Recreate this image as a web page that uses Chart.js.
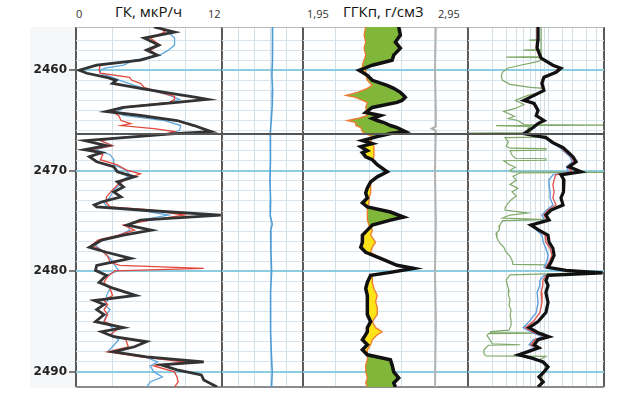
<!DOCTYPE html>
<html>
<head>
<meta charset="utf-8">
<script src="https://cdn.jsdelivr.net/npm/chart.js@4.4.0/dist/chart.umd.min.js"></script>
<style>
  body { margin: 0; background: #fff; width: 624px; height: 396px; overflow: hidden; position: relative; font-family: 'Open Sans', sans-serif; }
  canvas { position: absolute; }
  .lbl { position: absolute; white-space: nowrap; color: #111; line-height: 1; }
</style>
</head>
<body>
<div style="position:absolute;left:30px;top:27px;width:46px;height:361px;background:#f5f7f9"></div>
<div class="lbl" style="left:76px;top:8px;font-size:11px;color:#333">0</div>
<div class="lbl" style="left:115px;top:4px;font-size:15px">ГК, мкР/ч</div>
<div class="lbl" style="left:208px;top:8px;font-size:11px;color:#333">12</div>
<div class="lbl" style="left:307px;top:8px;font-size:11px;color:#333">1,95</div>
<div class="lbl" style="left:343px;top:4px;font-size:15px">ГГКп, г/см3</div>
<div class="lbl" style="left:438px;top:8px;font-size:11px;color:#333">2,95</div>
<canvas id="t1" width="225" height="366" style="left:0;top:24px"></canvas>
<canvas id="t2" width="87" height="366" style="left:219px;top:24px"></canvas>
<canvas id="t3" width="171" height="366" style="left:300px;top:24px"></canvas>
<canvas id="t4" width="142" height="366" style="left:465px;top:24px"></canvas>
<script>
const DEPTH_TOP = 2455.7;
const DEPTH_BOTTOM = 2491.5;
const RUN_BREAK = 2466.35;

// ГК: [глубина, значение]
const gkBlack = [[2455.7,6.4],[2456.2,8.1],[2456.8,5.6],[2457.5,6.8],[2458.0,5.8],[2458.5,6.7],[2459.0,5.3],[2459.5,1.7],[2460.0,0.25],[2460.3,0.9],
  [2460.7,2.5],[2461.0,3.3],[2461.3,3.0],[2461.8,5.3],[2462.3,7.8],[2462.7,9.9],[2462.9,10.8],[2463.2,8.3],[2463.7,3.9],[2464.1,2.5],
  [2464.5,5.3],[2465.0,8.3],[2465.5,9.7],[2466.1,11.1],[2466.3,8.1],[2466.7,3.9],[2467.0,0.7],[2467.5,2.5],[2467.9,0.7],[2468.2,2.1],
  [2468.6,1.1],[2469.1,1.7],[2469.6,3.1],[2470.1,3.4],[2470.6,4.8],[2471.1,3.4],[2471.6,3.9],[2472.1,3.1],[2472.6,3.7],[2473.1,2.1],
  [2473.4,1.5],[2473.6,1.7],[2473.9,5.3],[2474.4,11.9],[2474.9,5.3],[2475.4,4.2],[2475.9,6.2],[2476.4,3.9],[2476.9,2.1],[2477.6,1.1],
  [2478.1,2.5],[2478.7,4.5],[2479.4,1.7],[2479.9,1.6],[2480.4,2.5],[2481.1,1.9],[2481.7,3.1],[2482.4,4.9],[2482.9,1.5],[2483.3,2.3],
  [2483.8,1.7],[2484.3,2.3],[2485.0,1.6],[2485.6,3.9],[2486.0,2.1],[2486.5,3.1],[2487.0,5.8],[2487.5,4.8],[2488.0,3.1],[2488.5,5.8],
  [2489.0,10.5],[2489.3,7.0],[2489.8,8.3],[2490.3,10.3],[2490.8,10.5],[2491.5,11.6]];
const gkRed = [[2455.7,6.9],[2456.2,7.3],[2456.8,6.1],[2457.5,6.9],[2458.0,6.1],[2458.5,6.7],[2459.0,5.3],[2459.5,2.0],[2460.0,1.9],[2460.3,2.0],
  [2460.7,4.4],[2461.0,4.6],[2461.3,5.3],[2461.7,5.6],[2462.2,6.9],[2462.6,8.1],[2462.9,8.1],[2463.2,7.7],[2463.7,3.7],[2464.1,2.9],
  [2464.5,3.5],[2465.0,3.7],[2465.3,4.5],[2465.5,3.7],[2465.8,6.4],[2466.1,8.1],[2466.4,7.3],[2466.7,3.6],[2467.0,2.0],[2467.5,3.0],
  [2467.9,1.3],[2468.4,2.2],[2468.9,2.0],[2469.4,3.4],[2469.9,4.1],[2470.3,5.3],[2470.7,4.3],[2471.2,3.6],[2471.9,3.0],[2472.6,2.5],
  [2473.2,2.5],[2473.6,2.8],[2473.9,6.1],[2474.4,8.9],[2474.9,6.1],[2475.4,3.9],[2475.9,4.8],[2476.4,3.5],[2476.9,1.8],[2477.4,1.3],
  [2477.9,2.1],[2478.5,2.6],[2479.1,2.8],[2479.4,3.6],[2479.7,10.5],[2479.95,3.2],[2480.5,2.6],[2481.1,2.3],[2481.7,2.8],[2482.4,3.0],
  [2482.9,2.3],[2483.3,2.6],[2483.8,2.3],[2484.3,2.6],[2485.0,2.3],[2485.6,3.6],[2486.3,2.8],[2486.8,4.1],[2487.5,4.3],[2488.0,2.6],
  [2488.5,5.3],[2489.0,8.9],[2489.4,6.4],[2490.0,8.1],[2490.5,8.3],[2491.0,8.4],[2491.5,8.1]];
const gkBlue = [[2455.7,6.9],[2456.2,7.6],[2456.8,8.1],[2457.5,8.1],[2458.0,7.6],[2458.5,6.9],[2459.0,4.8],[2459.5,3.9],[2459.8,2.4],[2460.0,2.0],
  [2460.3,2.0],[2460.7,3.0],[2461.0,3.6],[2461.5,4.8],[2462.0,6.1],[2462.5,7.7],[2462.9,8.5],[2463.2,7.7],[2463.7,4.1],[2464.1,3.3],
  [2464.5,3.9],[2465.0,7.3],[2465.5,8.6],[2466.0,8.5],[2466.3,7.6],[2466.7,3.6],[2467.0,2.0],[2467.5,3.0],[2467.9,1.6],[2468.4,2.8],
  [2468.9,3.1],[2469.4,3.1],[2469.9,4.1],[2470.4,4.4],[2470.9,3.9],[2471.4,3.6],[2471.9,3.1],[2472.6,2.8],[2473.2,2.3],[2473.6,2.6],
  [2473.9,5.1],[2474.4,7.6],[2474.9,5.3],[2475.4,4.3],[2475.9,4.4],[2476.4,3.6],[2476.9,2.0],[2477.4,1.6],[2478.1,2.3],[2478.7,2.8],
  [2479.4,3.2],[2479.9,3.5],[2480.4,2.5],[2481.1,2.0],[2481.7,2.8],[2482.4,2.5],[2482.9,2.6],[2483.3,2.3],[2483.8,2.8],[2484.3,2.5],
  [2485.0,2.3],[2485.6,3.0],[2486.3,3.0],[2486.8,3.5],[2487.5,3.0],[2488.0,2.6],[2488.5,5.7],[2489.0,6.7],[2489.4,6.1],[2490.0,6.4],
  [2490.5,7.1],[2491.0,6.1],[2491.5,5.8]];

// вторая колонка
const track2Blue = [[2455.7,3.12],[2457.5,3.1],[2459,3.13],[2460.5,3.08],[2462,3.12],[2463.5,3.1],[2465,3.04],[2466.3,2.98],[2467.5,3.0],
  [2469,2.98],[2471,2.96],[2473,3.0],[2474.5,2.98],[2475.3,3.1],[2476,3.0],[2478,3.02],[2480,3.06],[2482,3.0],[2484,3.02],[2486,2.98],
  [2488,3.04],[2490,3.1],[2491.5,3.06]];

// ГГКп
const ggkDepth = [2455.7,2456.5,2457.2,2457.8,2458.5,2459.0,2459.5,2460.0,2460.5,2461.0,
  2461.5,2461.8,2462.2,2462.5,2462.7,2463.0,2463.2,2463.7,2464.2,2464.5,
  2464.8,2465.0,2465.2,2465.5,2465.7,2466.1,2466.3,2466.6,2467.0,2467.3,
  2467.6,2468.0,2468.2,2468.6,2468.9,2469.4,2470.1,2470.6,2471.1,2471.7,
  2472.2,2472.7,2473.2,2473.6,2474.1,2474.6,2474.9,2475.4,2475.9,2476.4,
  2477.1,2477.6,2478.1,2478.7,2479.4,2479.7,2480.1,2480.4,2481.1,2481.7,
  2482.4,2483.0,2483.6,2484.3,2485.0,2485.6,2486.0,2486.3,2486.8,2487.3,
  2487.8,2488.3,2488.8,2489.3,2490.0,2490.6,2491.1,2491.5];
const ggkBlack = [2.53,2.54,2.51,2.54,2.50,2.49,2.37,2.29,2.34,2.37,
  2.46,2.50,2.54,2.56,2.57,2.55,2.52,2.37,2.33,2.42,
  2.37,2.40,2.44,2.48,2.52,2.57,2.48,2.40,2.31,2.37,
  2.30,2.34,2.31,2.33,2.37,2.40,2.46,2.40,2.36,2.34,
  2.33,2.34,2.31,2.34,2.48,2.56,2.48,2.37,2.34,2.31,
  2.31,2.30,2.33,2.42,2.52,2.62,2.48,2.36,2.34,2.33,
  2.34,2.34,2.34,2.34,2.36,2.34,2.34,2.33,2.31,2.34,
  2.31,2.34,2.48,2.49,2.50,2.53,2.50,2.51];
const ggkOrange = [2.33,2.32,2.33,2.32,2.33,2.32,2.31,2.33,2.33,2.34,
  2.37,2.34,2.28,2.21,2.27,2.31,2.34,2.33,2.34,2.34,
  2.28,2.22,2.27,2.27,2.30,2.31,2.33,2.37,2.36,2.37,
  2.38,2.38,2.38,2.38,2.37,2.40,2.46,2.40,2.36,2.36,
  2.36,2.35,2.35,2.34,2.34,2.34,2.34,2.35,2.37,2.36,
  2.39,2.37,2.36,2.42,2.52,2.62,2.48,2.37,2.37,2.38,
  2.40,2.39,2.40,2.40,2.37,2.39,2.43,2.40,2.37,2.36,
  2.34,2.34,2.34,2.33,2.33,2.34,2.33,2.34];
const ggkGray = [[2455.7,2.755],[2460,2.75],[2464,2.755],[2465.6,2.755],[2465.8,2.73],[2466.0,2.755],[2470,2.75],[2475,2.755],
  [2480,2.75],[2485,2.755],[2491.5,2.75]];

// четвёртая колонка (лог. шкала)
const resBlack = [[2455.7,7.5],[2456.8,7.5],[2457.8,7.3],[2458.8,8.2],[2459.5,11.5],[2459.8,14.5],[2460.2,12.6],[2460.7,8.9],[2461.3,8.4],[2462.0,8.9],
  [2462.5,6.7],[2463.0,5.0],[2463.3,6.7],[2464.0,7.5],[2464.5,7.1],[2465.0,8.9],[2465.3,7.5],[2465.7,6.5],[2466.3,5.0],[2466.7,9.4],
  [2467.2,11.5],[2467.7,15.4],[2468.6,20.5],[2469.1,22.4],[2469.6,18.3],[2470.1,25.9],[2470.4,14.5],[2470.9,15.8],[2471.4,15.4],[2472.1,15.8],
  [2472.7,14.5],[2473.4,15.4],[2473.9,10.9],[2474.4,9.4],[2474.9,10.3],[2475.4,6.1],[2475.9,7.7],[2476.4,10],[2477.1,10.3],[2477.7,11.5],
  [2478.4,11.9],[2479.1,10.9],[2479.6,10],[2479.9,16.8],[2480.15,48],[2480.4,10],[2480.9,9.4],[2481.4,10],[2482.1,9.4],[2483.1,10],
  [2484.1,9.4],[2485.0,7.5],[2485.6,5.8],[2486.1,7.5],[2486.5,10.3],[2486.8,7.5],[2487.3,6.7],[2487.6,7.7],[2488.0,5.6],[2488.3,4.3],
  [2488.6,6.1],[2489.0,8.7],[2489.5,10],[2490.0,8.9],[2490.5,7.7],[2491.0,8.7],[2491.5,7.5]];
const resRed = [[2455.7,7.3],[2456.8,7.3],[2457.8,7.1],[2458.8,8.0],[2459.5,11],[2459.8,13.5],[2460.2,12.0],[2460.7,8.6],[2461.3,8.2],[2462.0,8.6],
  [2462.5,6.5],[2463.0,5.2],[2463.3,6.5],[2464.0,7.3],[2464.5,7.1],[2465.0,8.6],[2465.3,7.7],[2465.7,6.7],[2466.3,5.2],[2466.7,9.4],
  [2467.2,11.2],[2467.7,14.5],[2468.6,19.5],[2469.1,21.0],[2469.6,17.5],[2470.1,20],[2470.4,12.5],[2470.9,11.9],[2471.4,11.5],[2472.1,11.9],
  [2472.7,11.5],[2473.4,12.6],[2473.9,10.0],[2474.4,8.9],[2474.9,9.7],[2475.4,6.3],[2475.9,7.5],[2476.4,9.2],[2477.1,9.4],[2477.7,10.6],
  [2478.4,11.2],[2479.1,10.3],[2479.6,9.4],[2479.9,15],[2480.15,40],[2480.4,9.4],[2480.9,8.6],[2481.4,8.6],[2482.1,8.2],[2483.1,8.4],
  [2484.1,7.9],[2485.0,6.5],[2485.6,5.2],[2486.1,6.7],[2486.5,9.4],[2486.8,6.9],[2487.3,6.1],[2487.6,7.1],[2488.0,5.2],[2488.3,4.2],
  [2488.6,5.8],[2489.0,8.4],[2489.5,9.7],[2490.0,8.7],[2490.5,7.7],[2491.0,8.6],[2491.5,7.5]];
const resBlue = [[2455.7,7.6],[2456.8,7.6],[2457.8,7.3],[2458.8,8.2],[2459.5,11.2],[2459.8,13.5],[2460.2,12.2],[2460.7,8.7],[2461.3,8.2],[2462.0,8.7],
  [2462.5,6.6],[2463.0,5.1],[2463.3,6.6],[2464.0,7.3],[2464.5,7.2],[2465.0,8.9],[2465.3,7.7],[2465.7,6.8],[2466.3,5.0],[2466.7,9.2],
  [2467.2,10.9],[2467.7,14.0],[2468.6,18.8],[2469.1,20.0],[2469.6,17.0],[2470.1,18.0],[2470.4,11.5],[2470.9,10.3],[2471.4,10.3],[2472.1,10.6],
  [2472.7,10.6],[2473.4,11.5],[2473.9,9.6],[2474.4,8.4],[2474.9,9.0],[2475.4,6.1],[2475.9,7.2],[2476.4,8.4],[2477.1,8.7],[2477.7,9.4],
  [2478.4,10.0],[2479.1,9.6],[2479.6,8.9],[2479.9,13],[2480.15,30],[2480.4,8.9],[2480.9,7.9],[2481.4,7.9],[2482.1,7.3],[2483.1,7.5],
  [2484.1,7.1],[2485.0,5.8],[2485.6,4.9],[2486.1,6.3],[2486.5,8.7],[2486.8,6.5],[2487.3,5.8],[2487.6,6.9],[2488.0,5.0],[2488.3,4.1],
  [2488.6,5.6],[2489.0,8.2],[2489.5,9.6],[2490.0,8.7],[2490.5,7.7],[2491.0,8.6],[2491.5,7.6]];
const resGreen = [[2455.7,8.2],[2456.95,8.2],[2457.0,5.8],[2457.05,8.2],[2457.95,8.2],[2458.0,4.9],[2458.05,8.2],[2458.65,8.2],[2458.7,3.0],[2458.75,8.2],
  [2459.0,8.2],[2459.2,6.9],[2459.5,4.5],[2459.8,3.1],[2460.2,2.7],[2460.6,2.6],[2461.0,2.7],[2461.4,3.35],[2461.7,6.0],[2461.8,8.9],
  [2462.2,8.2],[2462.5,5.6],[2462.8,4.5],[2463.0,3.9],[2463.4,5.0],[2463.8,3.9],[2464.1,2.8],[2464.3,3.2],[2464.6,3.8],[2464.8,3.2],
  [2465.0,4.2],[2465.4,5.0],[2465.45,48.7],[2465.5,2.24],[2465.6,6.0],[2465.8,5.6],[2466.0,6.1],[2466.2,6.0],[2466.25,1.0],[2466.3,6.0],
  [2466.4,9.4],[2466.65,9.4],[2466.7,2.9],[2467.15,3.2],[2467.55,3.0],[2467.75,3.35],[2467.8,9.4],[2467.95,9.4],[2468.0,3.35],[2468.45,3.55],
  [2468.75,3.9],[2468.8,9.4],[2468.95,9.4],[2469.0,2.8],[2469.35,3.2],[2469.65,3.9],[2469.95,3.35],[2470.1,3.55],[2470.15,48.7],[2470.2,4.5],
  [2470.55,3.65],[2470.95,4.0],[2471.35,3.35],[2471.75,4.2],[2472.1,3.55],[2472.5,4.0],[2472.9,3.45],[2473.3,3.1],[2473.7,2.9],[2473.9,2.9],
  [2474.2,5.6],[2474.4,3.35],[2474.7,2.7],[2474.85,9.4],[2474.95,2.7],[2475.4,2.5],[2475.9,2.45],[2476.2,2.24],[2476.7,2.3],[2477.2,2.5],
  [2477.6,2.8],[2478.1,3.0],[2478.5,3.35],[2478.9,3.55],[2479.3,3.65],[2479.35,9.4],[2479.7,9.4],[2479.9,14],[2480.1,48.7],[2480.25,9.4],
  [2480.35,3.35],[2480.85,3.0],[2481.35,3.1],[2481.85,3.25],[2482.35,3.2],[2482.85,3.35],[2483.35,3.25],[2483.85,3.45],[2484.35,3.35],[2484.85,3.45],
  [2485.35,3.45],[2485.85,3.25],[2486.0,1.94],[2486.1,1.9],[2486.15,9.0],[2486.2,1.8],[2486.4,1.73],[2486.8,1.88],[2487.2,2.0],[2487.3,4.5],
  [2487.35,1.8],[2487.8,1.58],[2488.2,1.58],[2488.4,1.68],[2488.45,9.4],[2488.8,7.9],[2489.3,9.2],[2490.0,8.9],[2490.8,8.2],[2491.5,7.9]];

const isMajor = v => Math.abs(v % 10) < 1e-6;

function depthAxis(withLabels) {
  return {
    type: 'linear',
    reverse: true,
    min: DEPTH_TOP,
    max: DEPTH_BOTTOM,
    ticks: {
      display: withLabels,
      stepSize: 1,
      autoSkip: false,
      padding: 2,
      color: '#222',
      font: { family: 'DejaVu Sans', weight: 'bold', size: 12 },
      callback: v => isMajor(v) ? String(v) : ''
    },
    grid: {
      color: c => {
        const v = c.tick.value;
        if (v === DEPTH_TOP) return '#b8b8b8';
        if (v === DEPTH_BOTTOM) return '#8c8c8c';
        return isMajor(v) ? '#8ccde2' : '#d8e5ee';
      },
      lineWidth: c => (isMajor(c.tick.value) || c.tick.value === DEPTH_BOTTOM) ? 2 : 1,
      drawTicks: withLabels,
      tickLength: 7,
      tickWidth: 1.5,
      tickColor: c => isMajor(c.tick.value) ? '#555' : 'rgba(0,0,0,0)'
    },
    border: { display: false },
    afterFit: s => {
      s.width = withLabels ? 76 : 0;
      s.paddingTop = 0;
      s.paddingBottom = 0;
    }
  };
}

function valueAxis(type, min, max, stepSize, fixedTicks) {
  const axis = {
    type: type,
    min: min,
    max: max,
    position: 'top',
    ticks: { display: false, stepSize: stepSize },
    grid: {
      drawTicks: false,
      color: c => (c.tick.value === min || c.tick.value === max) ? '#5a5a5a' : '#d3e0e8',
      lineWidth: c => (c.tick.value === min || c.tick.value === max) ? 2 : 1
    },
    border: { display: false },
    afterFit: s => {
      s.height = 0;
      s.paddingLeft = 0;
      s.paddingRight = 0;
    }
  };
  if (fixedTicks) {
    axis.afterBuildTicks = s => { s.ticks = fixedTicks.map(v => ({ value: v })); };
  }
  return axis;
}

// линия стыка двух записей
const runBreakLine = {
  id: 'runBreak',
  afterDatasetsDraw(chart) {
    const { ctx, chartArea, scales } = chart;
    const y = scales.y.getPixelForValue(RUN_BREAK);
    ctx.save();
    ctx.strokeStyle = '#555';
    ctx.lineWidth = 2;
    ctx.beginPath();
    ctx.moveTo(chartArea.left, y);
    ctx.lineTo(chartArea.right, y);
    ctx.stroke();
    ctx.restore();
  }
};

const toPoints = pairs => pairs.map(p => ({ x: p[1], y: p[0] }));

function curve(points, color, width, extra) {
  return Object.assign({
    data: points,
    borderColor: color,
    borderWidth: width,
    pointRadius: 0,
    fill: false,
    tension: 0
  }, extra || {});
}

function track(id, withLabels, xAxis, datasets) {
  new Chart(document.getElementById(id), {
    type: 'line',
    data: { datasets: datasets },
    options: {
      indexAxis: 'y',
      responsive: false,
      animation: false,
      devicePixelRatio: 1,
      events: [],
      layout: { padding: { left: withLabels ? 0 : 3, right: 3, top: 3, bottom: 3 } },
      scales: { x: xAxis, y: depthAxis(withLabels) },
      plugins: { legend: { display: false }, tooltip: { enabled: false } }
    },
    plugins: [runBreakLine]
  });
}

track('t1', true, valueAxis('linear', 0, 12, 3), [
  curve(toPoints(gkBlack), '#333', 2.8),
  curve(toPoints(gkRed), '#e2483c', 1.3),
  curve(toPoints(gkBlue), '#5ea8de', 1.3)
]);

track('t2', false, valueAxis('linear', 0, 5, 1), [
  curve(toPoints(track2Blue), '#4b9bd6', 1.6)
]);

const ggkBlackPts = ggkDepth.map((d, i) => ({ x: ggkBlack[i], y: d }));
const ggkOrangePts = ggkDepth.map((d, i) => ({ x: ggkOrange[i], y: d }));
const ggkGreenEdge = ggkDepth.map((d, i) => ({ x: Math.max(ggkBlack[i], ggkOrange[i]), y: d }));
const ggkYellowEdge = ggkDepth.map((d, i) => ({ x: Math.min(ggkBlack[i], ggkOrange[i]), y: d }));

track('t3', false, valueAxis('linear', 1.95, 2.95, 0.2, [1.95, 2.15, 2.35, 2.55, 2.75, 2.95]), [
  curve(ggkBlackPts, '#111', 3.5),
  curve(ggkOrangePts, '#ee7a30', 1.3),
  curve(toPoints(ggkGray), '#b3b3b3', 2),
  curve(ggkGreenEdge, 'rgba(0,0,0,0)', 0, { fill: 1, backgroundColor: '#80b73a' }),
  curve(ggkYellowEdge, 'rgba(0,0,0,0)', 0, { fill: 1, backgroundColor: '#fde41a' })
]);

track('t4', false, valueAxis('logarithmic', 1, 50), [
  curve(toPoints(resBlack), '#111', 3.2),
  curve(toPoints(resRed), '#e05a55', 1.4),
  curve(toPoints(resBlue), '#5c9fe0', 1.4),
  curve(toPoints(resGreen), '#80a96a', 1.2)
]);
</script>
</body>
</html>
